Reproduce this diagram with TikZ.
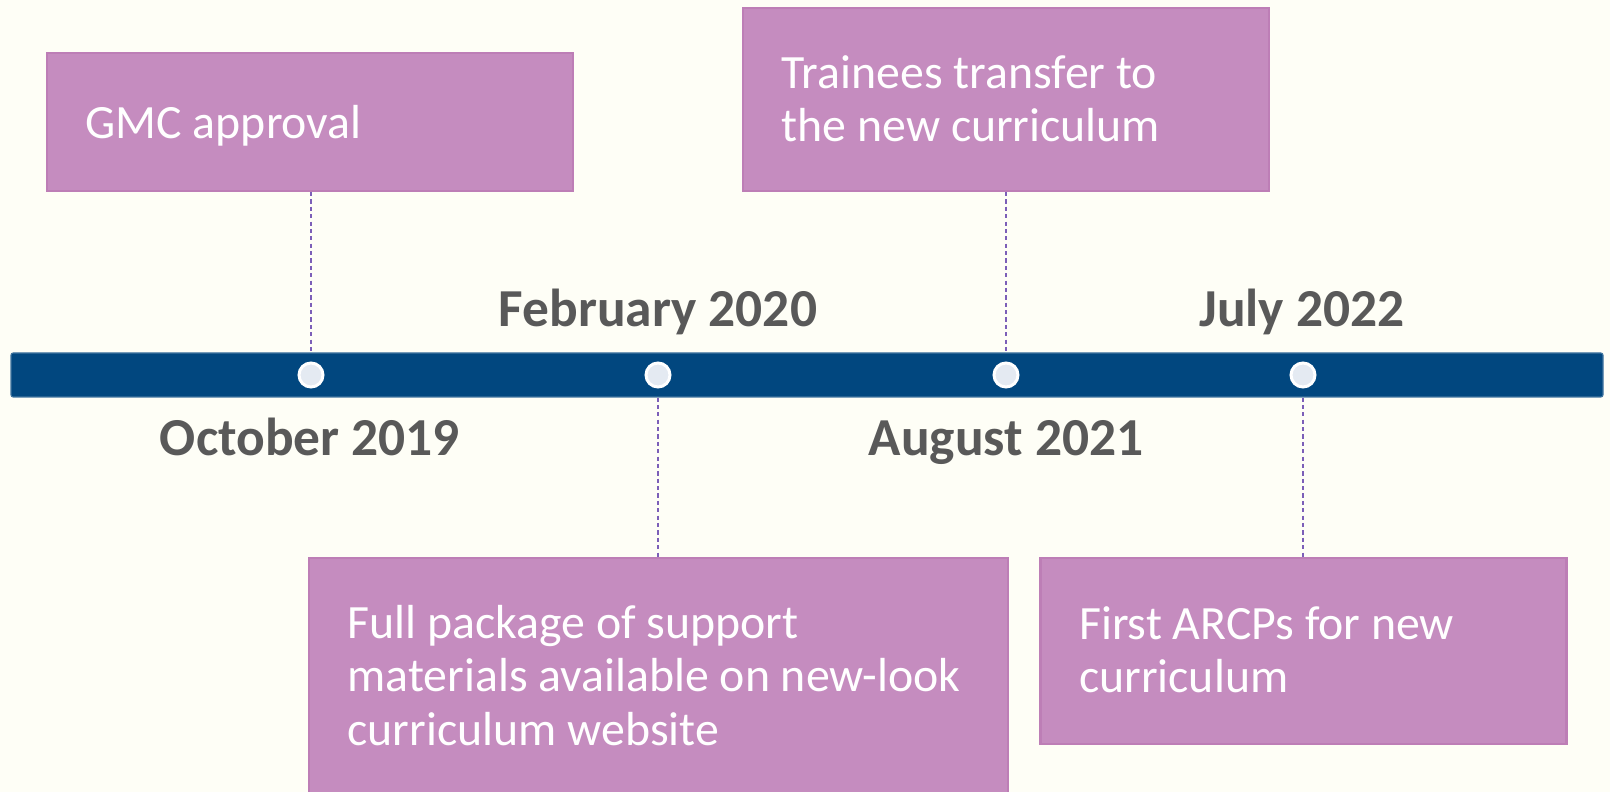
\documentclass[tikz,border=0pt]{standalone}
\usepackage{fontspec}
\setmainfont{Carlito}
\usetikzlibrary{positioning}
\definecolor{tlBack}{HTML}{FEFEF6}
\definecolor{tlBar}{HTML}{01477F}
\definecolor{tlDot}{HTML}{E4EAF2}
\definecolor{tlFill}{HTML}{C58CBF}
\definecolor{tlEdge}{HTML}{BD7EB6}
\definecolor{tlGuide}{HTML}{7C5FB8}
\definecolor{tlDate}{HTML}{595959}
\tikzset{
  bar/.style={
    rectangle,
    rounded corners=0.6pt,
    fill=tlBar,
    draw=tlBar!75!white,
    line width=0.3pt,
    inner sep=0pt,
    minimum width=15.92cm,
    minimum height=0.44cm
  },
  milestone/.style={
    circle,
    fill=tlDot,
    draw=white,
    line width=0.85pt,
    inner sep=0pt,
    minimum size=0.24cm
  },
  event/.style={
    rectangle,
    fill=tlFill,
    draw=tlEdge,
    line width=0.6pt,
    inner sep=0pt,
    minimum width=5.26cm
  },
  eventtext/.style={
    anchor=north west,
    align=left,
    inner sep=0pt,
    text=white,
    font=\fontsize{13.6}{15.1}\selectfont
  },
  datelabel/.style={
    anchor=base,
    inner sep=0pt,
    text=tlDate,
    font=\bfseries\fontsize{15.2}{17}\selectfont
  },
  guide/.style={draw=tlGuide, line width=0.4pt, dash pattern=on 1.2pt off 0.9pt}
}

\begin{document}
\begin{tikzpicture}[x=1cm, y=-1cm]
  \fill[tlBack] (0,0) rectangle (16.10,7.92);
  \clip (0,0) rectangle (16.10,7.92);

  \node[bar] (line) at (8.07,3.75) {};

  \node[milestone] (oct) at (3.11,3.75) {};
  \node[milestone] (feb) at (6.58,3.75) {};
  \node[milestone] (aug) at (10.06,3.75) {};
  \node[milestone] (jul) at (13.03,3.75) {};

  \node[event, minimum height=1.38cm, anchor=south] (gmc) at (3.10,1.92) {};
  \node[event, minimum height=1.83cm, anchor=south] (transfer) at (10.06,1.92) {};
  \node[event, minimum width=6.99cm, minimum height=2.43cm, anchor=north] (package) at (6.585,5.57) {};
  \node[event, minimum height=1.86cm, anchor=north] (arcp) at (13.035,5.57) {};

  \node[eventtext] (gmctxt) at ([shift={(0.39,0.53)}]gmc.north west) {GMC approval};
  \node[eventtext] (transfertxt) at ([shift={(0.39,0.48)}]transfer.north west) {Trainees transfer to\\the new curriculum};
  \node[eventtext] (packagetxt) at ([shift={(0.39,0.48)}]package.north west) {Full package of support\\materials available on new-look\\curriculum website};
  \node[eventtext] (arcptxt) at ([shift={(0.39,0.49)}]arcp.north west) {First ARCPs for new\\curriculum};

  \draw[guide] (oct |- gmc.south) -- (oct |- line.north);
  \draw[guide] (aug |- transfer.south) -- (aug |- line.north);
  \draw[guide] (feb |- line.south) -- (feb |- package.north);
  \draw[guide] (jul |- line.south) -- (jul |- arcp.north);

  \node[datelabel] (octlbl) at (3.10,4.56) {October 2019};
  \node[datelabel] (feblbl) at (6.58,3.27) {February 2020};
  \node[datelabel] (auglbl) at (10.06,4.56) {August 2021};
  \node[datelabel] (jullbl) at (13.02,3.27) {July 2022};
\end{tikzpicture}
\end{document}
